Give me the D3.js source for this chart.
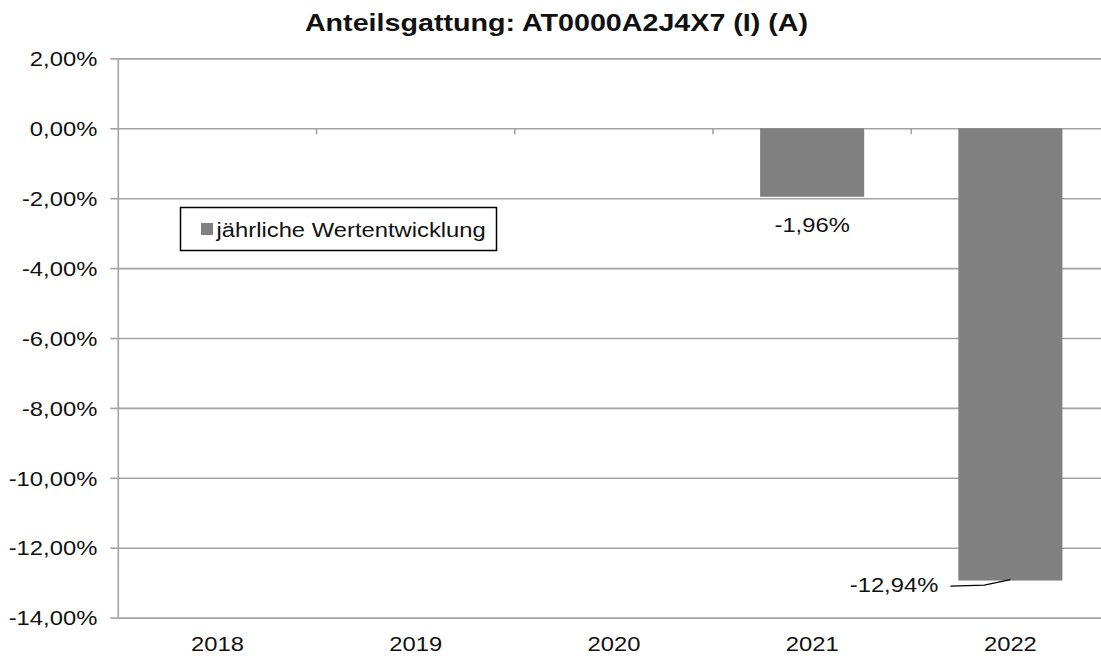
<!DOCTYPE html>
<html>
<head>
<meta charset="utf-8">
<script src="https://cdn.jsdelivr.net/npm/d3@7"></script>
<style>
  html, body { margin: 0; padding: 0; background: #fff; }
  svg { display: block; font-family: "Liberation Sans", Arial, sans-serif; }
</style>
</head>
<body>
<svg id="chart" width="1101" height="656"></svg>
<script>
// ---- data ----
const title = "Anteilsgattung: AT0000A2J4X7 (I) (A)";
const seriesName = "jährliche Wertentwicklung";
const years = ["2018", "2019", "2020", "2021", "2022"];
const values = [null, null, null, -1.96, -12.94];
const yTicks = [2, 0, -2, -4, -6, -8, -10, -12, -14];

// ---- layout ----
const plotL = 118.3, plotR = 1109.5, plotT = 58.4, plotB = 617.6;
const sx = 1.22;          // horizontal stretch of the reference text
const fs = 19.5;
const grid = "#a3a3a3", barColor = "#808080";

const de = d3.formatLocale({decimal: ",", thousands: ".", grouping: [3], currency: ["", "€"], minus: "-"});
const pct = v => de.format(".2f")(v) + "%";

const svg = d3.select("#chart");

const x = d3.scaleBand().domain(years).range([plotL, plotR]).paddingInner(0.475).paddingOuter(0.2375);
const y = d3.scaleLinear().domain([-14, 2]).range([plotB, plotT]);

// gridlines
svg.append("g")
  .attr("transform", `translate(${plotL},0)`)
  .call(d3.axisLeft(y).tickValues(yTicks).tickSize(-(plotR - plotL)).tickFormat(""))
  .call(g => g.select(".domain").remove())
  .call(g => g.selectAll("line").attr("stroke", grid).attr("stroke-width", 1.6));

// y axis with labels
svg.append("g")
  .attr("transform", `translate(${plotL},0)`)
  .call(d3.axisLeft(y).tickValues(yTicks).tickSize(8).tickFormat(pct))
  .call(g => g.select(".domain").attr("stroke", grid).attr("stroke-width", 1.6).attr("d", `M0,${plotT}V${plotB}`))
  .call(g => g.selectAll("line").attr("stroke", grid).attr("stroke-width", 1.6))
  .call(g => g.selectAll("text")
    .attr("x", null).attr("dy", null)
    .attr("fill", "#111")
    .attr("font-size", fs)
    .attr("font-family", "Liberation Sans, Arial, sans-serif")
    .attr("text-anchor", "end")
    .attr("transform", `translate(-21,7.2) scale(${sx},1)`));

// bars
svg.append("g").selectAll("rect")
  .data(years.map((d, i) => ({year: d, v: values[i]})).filter(d => d.v !== null))
  .join("rect")
  .attr("x", d => x(d.year))
  .attr("width", x.bandwidth())
  .attr("y", d => y(Math.max(0, d.v)))
  .attr("height", d => Math.abs(y(d.v) - y(0)))
  .attr("fill", barColor);

// category boundary ticks on the zero line
const gap = (x.step() - x.bandwidth()) / 2;
svg.append("g").selectAll("line")
  .data(years.slice(1))
  .join("line")
  .attr("x1", d => x(d) - gap).attr("x2", d => x(d) - gap)
  .attr("y1", y(0)).attr("y2", y(0) + 6)
  .attr("stroke", grid).attr("stroke-width", 1.6);

// x axis labels at bottom
svg.append("g")
  .attr("transform", `translate(0,${plotB})`)
  .call(d3.axisBottom(x).tickSize(0))
  .call(g => g.select(".domain").remove())
  .call(g => g.selectAll("text")
    .attr("y", null).attr("dy", null)
    .attr("fill", "#111")
    .attr("font-size", fs)
    .attr("font-family", "Liberation Sans, Arial, sans-serif")
    .attr("transform", `translate(0,33) scale(${sx},1)`));

// data labels
const bc = d => x(d) + x.bandwidth() / 2;
svg.append("text")
  .attr("transform", `translate(${bc("2021")},${y(values[3]) + 35}) scale(${sx},1)`)
  .attr("text-anchor", "middle").attr("font-size", fs).attr("fill", "#111").text(pct(values[3]));

const lx = x("2022") - 20, ly = y(values[4]) + 11.5;
svg.append("text")
  .attr("transform", `translate(${lx},${ly}) scale(${sx},1)`)
  .attr("text-anchor", "end").attr("font-size", fs).attr("fill", "#111").text(pct(values[4]));
svg.append("path")
  .attr("d", `M${lx + 12},${ly - 6}L${lx + 46},${ly - 7}L${bc("2022")},${y(values[4]) - 1}`)
  .attr("fill", "none").attr("stroke", "#000").attr("stroke-width", 1.2);

// legend
const lg = svg.append("g");
lg.append("rect").attr("x", 180.5).attr("y", 207.5).attr("width", 316).attr("height", 43)
  .attr("fill", "#fff").attr("stroke", "#000").attr("stroke-width", 1.5);
lg.append("rect").attr("x", 201).attr("y", 223).attr("width", 12).attr("height", 12).attr("fill", barColor);
lg.append("text")
  .attr("transform", `translate(216.5,236.5) scale(${sx},1)`)
  .attr("font-size", fs).attr("fill", "#111").text(seriesName);

// title
svg.append("text")
  .attr("transform", `translate(556.5,31) scale(1.22,1)`)
  .attr("text-anchor", "middle").attr("font-size", 23.5).attr("font-weight", "bold")
  .attr("fill", "#111")
  .text(title);
</script>
</body>
</html>
